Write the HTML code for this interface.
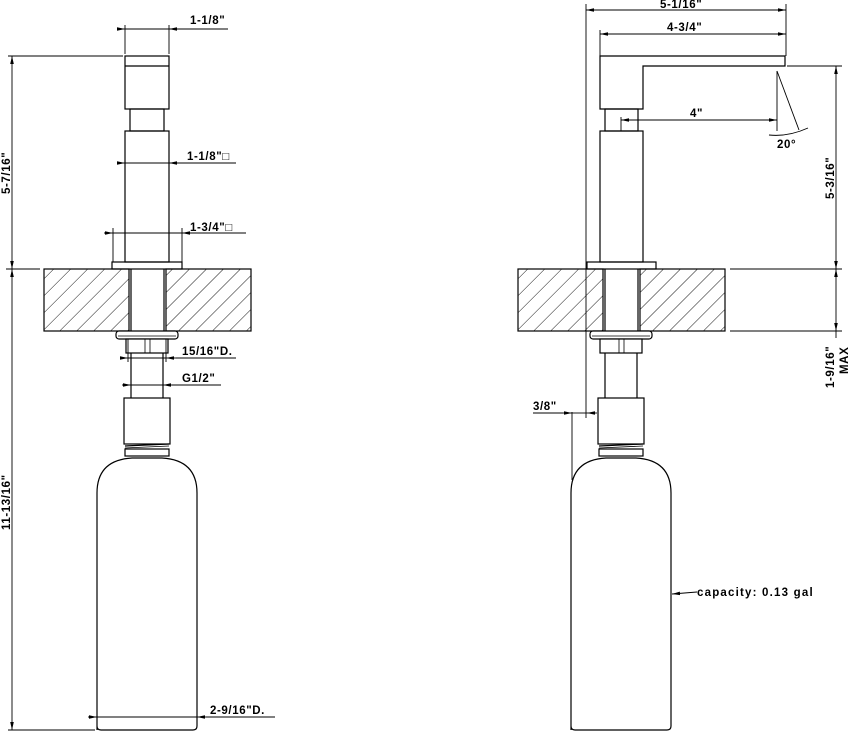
<!DOCTYPE html>
<html><head><meta charset="utf-8"><style>
html,body{margin:0;padding:0;background:#fff;}
svg{display:block;}
text{font-family:"Liberation Sans",sans-serif;font-weight:bold;font-size:11.5px;fill:#000;letter-spacing:0.6px;}
</style></head><body>
<svg width="851" height="733" viewBox="0 0 851 733" xmlns="http://www.w3.org/2000/svg">
<defs>
<pattern id="h" patternUnits="userSpaceOnUse" width="12" height="12" patternTransform="rotate(45)">
<line x1="0" y1="0" x2="0" y2="12" stroke="#000" stroke-width="0.9"/>
</pattern>
<marker id="a" markerWidth="8" markerHeight="6" refX="8" refY="3" orient="auto" markerUnits="userSpaceOnUse">
<path d="M0,1.2 L8,3 L0,4.8z" fill="#000"/>
</marker>
<g id="low" fill="none" stroke="#000" stroke-width="1.2">
<rect x="44" y="269" width="85" height="62" fill="url(#h)"/>
<rect x="166" y="269" width="85" height="62" fill="url(#h)"/>
<line x1="131" y1="269" x2="131" y2="331"/><line x1="164" y1="269" x2="164" y2="331"/>
<rect x="116" y="331" width="62" height="8" rx="3" fill="#fff"/>
<line x1="118" y1="336" x2="176" y2="336" stroke-width="0.8"/>
<rect x="126" y="339" width="42" height="14" fill="#fff"/>
<line x1="145" y1="339" x2="145" y2="353" stroke-width="0.8"/><line x1="150" y1="339" x2="150" y2="353" stroke-width="0.8"/>
<line x1="131" y1="353" x2="131" y2="398"/><line x1="163" y1="353" x2="163" y2="398"/>
<rect x="124" y="398" width="46" height="46"/>
<line x1="125" y1="446" x2="169" y2="444"/><line x1="125" y1="448" x2="169" y2="446" stroke-width="0.8"/>
<rect x="125" y="449" width="44" height="7"/>
<path d="M97,730 L97,493 Q97,460 132,458 L162,458 Q197,460 197,493 L197,726 Q197,730 193,730 L101,730 Q97,730 97,726"/>
</g>
</defs>

<use href="#low"/>
<use href="#low" x="474"/>

<g fill="none" stroke="#000" stroke-width="1.2">
<rect x="125" y="56" width="44" height="53"/>
<line x1="125" y1="66" x2="169" y2="66"/>
<rect x="130" y="109" width="34" height="22"/>
<rect x="125" y="131" width="44" height="131"/>
<rect x="112" y="262" width="70" height="7"/>
<path d="M600,56 L785,56 L785,66 L643,66 L643,109 L600,109 Z"/>
<rect x="605" y="109" width="33" height="22"/>
<rect x="600" y="131" width="43" height="131"/>
<rect x="587" y="262" width="69" height="7"/>
</g>

<g fill="none" stroke="#000" stroke-width="0.9">
<line x1="125" y1="25" x2="125" y2="54"/><line x1="169" y1="25" x2="169" y2="54"/>
<line x1="117" y1="29" x2="125" y2="29" marker-end="url(#a)"/>
<line x1="228" y1="29" x2="169" y2="29" marker-end="url(#a)"/>
<line x1="125" y1="29" x2="169" y2="29"/>
<line x1="8" y1="56" x2="123" y2="56"/>
<line x1="12" y1="160" x2="12" y2="56" marker-end="url(#a)"/>
<line x1="12" y1="160" x2="12" y2="269" marker-end="url(#a)"/>
<line x1="6" y1="269" x2="40" y2="269"/>
<line x1="12" y1="400" x2="12" y2="269" marker-end="url(#a)"/>
<line x1="12" y1="400" x2="12" y2="730" marker-end="url(#a)"/>
<line x1="8" y1="730" x2="95" y2="730"/>
<line x1="117" y1="163" x2="125" y2="163" marker-end="url(#a)"/>
<line x1="125" y1="163" x2="169" y2="163"/>
<line x1="236" y1="163" x2="169" y2="163" marker-end="url(#a)"/>
<line x1="113" y1="228" x2="113" y2="262"/><line x1="182" y1="228" x2="182" y2="262"/>
<line x1="104" y1="233" x2="113" y2="233" marker-end="url(#a)"/>
<line x1="113" y1="233" x2="182" y2="233"/>
<line x1="246" y1="233" x2="182" y2="233" marker-end="url(#a)"/>
<line x1="128" y1="339" x2="128" y2="362"/><line x1="166" y1="339" x2="166" y2="362"/>
<line x1="120" y1="358" x2="128" y2="358" marker-end="url(#a)"/>
<line x1="128" y1="358" x2="166" y2="358"/>
<line x1="176" y1="358" x2="166" y2="358" marker-end="url(#a)"/>
<line x1="176" y1="358" x2="236" y2="358"/>
<line x1="122" y1="385" x2="131" y2="385" marker-end="url(#a)"/>
<line x1="131" y1="385" x2="163" y2="385"/>
<line x1="172" y1="385" x2="163" y2="385" marker-end="url(#a)"/>
<line x1="172" y1="385" x2="221" y2="385"/>
<line x1="88" y1="717" x2="97" y2="717" marker-end="url(#a)"/>
<line x1="97" y1="717" x2="197" y2="717"/>
<line x1="206" y1="717" x2="197" y2="717" marker-end="url(#a)"/>
<line x1="206" y1="717" x2="275" y2="717"/>

<line x1="586" y1="4" x2="586" y2="418"/>
<line x1="786" y1="4" x2="786" y2="56"/>
<line x1="680" y1="10" x2="586" y2="10" marker-end="url(#a)"/>
<line x1="680" y1="10" x2="786" y2="10" marker-end="url(#a)"/>
<line x1="600" y1="30" x2="600" y2="56"/>
<line x1="690" y1="34" x2="600" y2="34" marker-end="url(#a)"/>
<line x1="690" y1="34" x2="786" y2="34" marker-end="url(#a)"/>
<line x1="621" y1="117" x2="621" y2="131"/>
<line x1="700" y1="120" x2="621" y2="120" marker-end="url(#a)"/>
<line x1="700" y1="120" x2="777" y2="120" marker-end="url(#a)"/>
<line x1="777" y1="71" x2="777" y2="131"/>
<line x1="777" y1="71" x2="799" y2="130"/>
<path d="M769,135 Q788,137 808,128"/>
<line x1="787" y1="66" x2="842" y2="66"/>
<line x1="836" y1="170" x2="836" y2="66" marker-end="url(#a)"/>
<line x1="836" y1="170" x2="836" y2="269" marker-end="url(#a)"/>
<line x1="730" y1="269" x2="842" y2="269"/>
<line x1="730" y1="331" x2="842" y2="331"/>
<line x1="836" y1="300" x2="836" y2="269" marker-end="url(#a)"/>
<line x1="836" y1="300" x2="836" y2="331" marker-end="url(#a)"/>
<line x1="836" y1="331" x2="836" y2="338"/>
<line x1="572" y1="412" x2="572" y2="480"/>
<line x1="533" y1="413" x2="563" y2="413"/>
<line x1="563" y1="413" x2="572" y2="413" marker-end="url(#a)"/>
<line x1="572" y1="413" x2="587" y2="413"/>
<line x1="597" y1="413" x2="587" y2="413" marker-end="url(#a)"/>
<line x1="697" y1="592" x2="672" y2="594" marker-end="url(#a)"/>
</g>

<text x="190" y="24">1-1/8"</text>
<text x="187" y="160">1-1/8"□</text>
<text x="190" y="231">1-3/4"□</text>
<text x="182" y="355">15/16"D.</text>
<text x="182" y="382">G1/2"</text>
<text x="210" y="714">2-9/16"D.</text>
<text transform="translate(10,194) rotate(-90)">5-7/16"</text>
<text transform="translate(10,530) rotate(-90)">11-13/16"</text>
<text x="660" y="8">5-1/16"</text>
<text x="667" y="31">4-3/4"</text>
<text x="690" y="117">4"</text>
<text x="777" y="148">20°</text>
<text transform="translate(834,199) rotate(-90)">5-3/16"</text>
<text transform="translate(834,388) rotate(-90)">1-9/16"</text>
<text transform="translate(848,374) rotate(-90)">MAX</text>
<text x="533" y="410">3/8"</text>
<text x="697" y="596" style="letter-spacing:1.2px">capacity:  0.13  gal</text>
</svg>
</body></html>
